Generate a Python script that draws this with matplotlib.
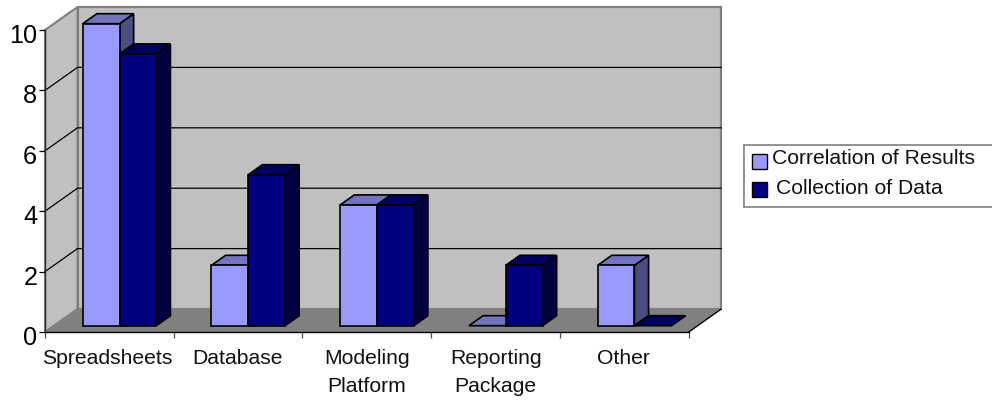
import matplotlib
matplotlib.use("Agg")
import matplotlib.pyplot as plt
from matplotlib.patches import Polygon, Rectangle
from matplotlib.transforms import ScaledTranslation

plt.rcParams['font.family'] = ['Liberation Sans', 'DejaVu Sans']

categories = ["Spreadsheets", "Database", "Modeling\nPlatform", "Reporting\nPackage", "Other"]
series_names = ["Correlation of Results", "Collection of Data"]
correlation = [10, 2, 4, 0, 2]
collection = [9, 5, 4, 2, 0]
value_ticks = [0, 2, 4, 6, 8, 10]

W, H = 992, 402
fig = plt.figure(figsize=(W / 100, H / 100), dpi=100, facecolor='white')
L, R, B, T = 45, 688.7, 333, 31
ax = fig.add_axes([L / W, 1 - B / H, (R - L) / W, (B - T) / H])
ax.set_xlim(0, 5)
ax.set_ylim(0, 10)
ax.patch.set_visible(False)
for s in ax.spines.values():
    s.set_visible(False)

# oblique projection: depth 1 is the back wall
UX = (R - L) / 5
UY = (B - T) / 10
DEPTH_X = 32.5 / UX
DEPTH_Y = 23 / UY


def pt(x, y, d):
    return (x + d * DEPTH_X, y + d * DEPTH_Y)


def quad(corners, face, edge, lw, z):
    ax.add_patch(Polygon([pt(*c) for c in corners], closed=True, facecolor=face,
                         edgecolor=edge, linewidth=lw, zorder=z, clip_on=False,
                         joinstyle='miter'))


GRAY = '#808080'
WALL = '#C0C0C0'
# back wall, side wall, floor
quad([(0, 0, 1), (5, 0, 1), (5, 10, 1), (0, 10, 1)], WALL, GRAY, 1.6, 1)
quad([(0, 0, 0), (0, 0, 1), (0, 10, 1), (0, 10, 0)], WALL, GRAY, 1.5, 1)
quad([(0, 0, 0), (5, 0, 0), (5, 0, 1), (0, 0, 1)], GRAY, GRAY, 1.0, 1.1)

# gridlines run across the side wall and the back wall
for v in value_ticks[1:-1]:
    xs, ys = zip(pt(0, v, 0), pt(0, v, 1), pt(5, v, 1))
    ax.plot(xs, ys, color='black', lw=0.9, zorder=2, clip_on=False)

# front axis lines, floor edge and tick marks
ax.plot([0, 0], [0, 10], color='#303030', lw=1.0, zorder=3, clip_on=False)
ax.plot([0, 5], [0, 0], color='black', lw=1.0, zorder=3, clip_on=False)
xs, ys = zip(pt(5, 0, 0), pt(5, 0, 1))
ax.plot(xs, ys, color='black', lw=0.9, zorder=3, clip_on=False)

ax.set_yticks(value_ticks)
ax.set_yticklabels([str(v) for v in value_ticks], fontsize=18.2)
ax.set_xticks(range(6))
ax.set_xticklabels([])
ax.tick_params(axis='y', length=4, width=0.9, color='black', pad=1.5)
ax.tick_params(axis='x', length=4, width=0.9, color='#505050')

# value labels sit slightly below their tick marks
label_drop = ScaledTranslation(0, -2.5 / 100, fig.dpi_scale_trans)
for label in ax.get_yticklabels():
    label.set_transform(label.get_transform() + label_drop)

label_shift = [-2.5, -1, 0, 0, -1]
for i, name in enumerate(categories):
    ax.annotate(name, (i + 0.5, 0), xytext=(label_shift[i] * 0.72, -11.3), textcoords='offset points',
                ha='center', va='top', fontsize=15.2, linespacing=1.62,
                annotation_clip=False, color='#111111')

# bars
BAR_W = 36.8 / UX
GAP = 28.8 / UX
D0, D1 = 6.3 / 23, 16.3 / 23
STYLES = [('#9999FF', '#7373BF', '#4D4D80'), ('#000080', '#000060', '#000040')]


def bar(x0, v, style, z):
    x1 = x0 + BAR_W
    front, top, side = style
    quad([(x1, 0, D0), (x1, 0, D1), (x1, v, D1), (x1, v, D0)], side, 'black', 1.2, z)
    quad([(x0, v, D0), (x1, v, D0), (x1, v, D1), (x0, v, D1)], top, 'black', 1.2, z)
    if v > 0:
        quad([(x0, 0, D0), (x1, 0, D0), (x1, v, D0), (x0, v, D0)], front, 'black', 1.2, z)


for i in range(len(categories)):
    x0 = i + GAP
    bar(x0, correlation[i], STYLES[0], 5 + i * 0.1)
    bar(x0 + BAR_W, collection[i], STYLES[1], 5.05 + i * 0.1)

# legend, placed in pixel coordinates
def fx(px):
    return px / W


def fy(py):
    return 1 - py / H


fig.add_artist(Rectangle((fx(743.5), fy(208)), fx(260), (208 - 146) / H, facecolor='white',
                         edgecolor=GRAY, linewidth=1.2, transform=fig.transFigure))
for (px, py, tx, ty), name, style in zip(
        [(751.5, 170, 772, 159), (751.5, 198, 776, 188.5)], series_names, STYLES):
    fig.add_artist(Rectangle((fx(px), fy(py)), 15 / W, 15 / H, facecolor=style[0],
                             edgecolor='black', linewidth=1.0, transform=fig.transFigure))
    fig.text(fx(tx), fy(ty), name, ha='left', va='center', fontsize=15.2, color='#111111')

fig.savefig('out.png', dpi=100)
